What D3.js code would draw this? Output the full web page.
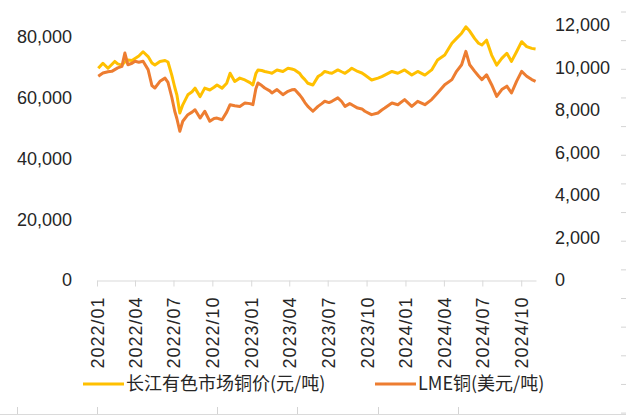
<!DOCTYPE html>
<html>
<head>
<meta charset="utf-8">
<script src="https://cdn.jsdelivr.net/npm/d3@7"></script>
<style>
  body { margin: 0; background: #fff; }
  svg text { font-family: "Liberation Sans", Arial, "Noto Sans CJK SC", sans-serif; fill: #262626; }
</style>
</head>
<body>
<svg id="chart" width="626" height="416"></svg>
<script>
// dates (approx. every 1-2 weeks)
const dates = [
  "2022-01-04","2022-01-15","2022-01-27","2022-02-05","2022-02-12","2022-02-19","2022-03-01","2022-03-08",
  "2022-03-15","2022-03-25","2022-04-01","2022-04-10","2022-04-20","2022-05-02","2022-05-11","2022-05-18",
  "2022-05-30","2022-06-11","2022-06-18","2022-06-27","2022-07-04","2022-07-09","2022-07-16","2022-07-23",
  "2022-08-04","2022-08-14","2022-08-21","2022-09-02","2022-09-13","2022-09-25","2022-10-05","2022-10-12",
  "2022-10-24","2022-11-04","2022-11-12","2022-11-23","2022-12-05","2022-12-17","2022-12-29","2023-01-05",
  "2023-01-12","2023-01-17","2023-01-26","2023-02-02","2023-02-14","2023-02-19","2023-03-03","2023-03-17",
  "2023-03-29","2023-04-07","2023-04-14","2023-04-26","2023-05-01","2023-05-08","2023-05-15","2023-05-27",
  "2023-06-08","2023-06-17","2023-06-24","2023-07-04","2023-07-11","2023-07-25","2023-08-03","2023-08-11",
  "2023-08-22","2023-08-27","2023-09-10","2023-09-20","2023-09-27","2023-10-09","2023-10-13","2023-10-28",
  "2023-11-06","2023-11-13","2023-11-30","2023-12-14","2023-12-30","2024-01-16","2024-01-30","2024-02-16",
  "2024-03-03","2024-03-17","2024-04-03","2024-04-20","2024-05-01","2024-05-13","2024-05-23","2024-06-01",
  "2024-06-13","2024-06-22","2024-06-30","2024-07-11","2024-07-23","2024-08-04","2024-08-16","2024-08-28",
  "2024-09-08","2024-09-20","2024-10-02","2024-10-14","2024-10-26","2024-11-04"
];
// 长江有色市场铜价 (元/吨), left axis
const cjCopper = [
  69750,71400,69750,71000,72000,71200,70800,71800,72500,72300,73000,73800,75200,73600,71500,70800,
  72000,72300,71800,67500,63500,61000,55000,57700,61000,62000,63200,60400,63200,62600,63500,64250,
  63200,64800,68100,65400,66500,65900,65000,64250,68000,69200,69000,68700,68300,68100,69200,68700,
  69750,69500,69200,68000,67000,66000,64800,64250,67000,67800,68700,68300,68100,69200,68600,68100,
  69200,69750,68700,68200,67500,66300,65900,66500,67000,67500,68700,68100,69200,67500,68700,67500,
  69200,72500,74100,78000,79600,81300,83400,82000,79500,78000,77400,79000,74100,70800,73000,74700,
  72000,75200,78500,76900,76300,76100
];
// LME铜 (美元/吨), right axis
const lmeCopper = [
  9590,9740,9800,9820,9900,9980,10050,10680,10130,10200,10290,10250,10290,9900,9150,9035,
  9350,9500,9300,8600,7940,7600,7000,7470,7780,7900,8010,7620,7940,7470,7600,7620,
  7540,7900,8250,8200,8170,8330,8300,8250,9000,9270,9150,9035,8900,8800,8960,8720,
  8880,8950,8960,8700,8570,8350,8170,7940,8170,8300,8410,8350,8410,8570,8400,8170,
  8300,8250,8090,8050,7940,7820,7780,7860,8000,8090,8330,8250,8490,8170,8410,8250,
  8490,8800,9190,9430,9820,10130,10760,10130,9820,9600,9430,9660,9190,8640,8960,9120,
  8800,9350,9820,9590,9430,9350
];
const leftTicks = [0, 20000, 40000, 60000, 80000];
const rightTicks = [0, 2000, 4000, 6000, 8000, 10000, 12000];
const seriesNames = ["长江有色市场铜价(元/吨)", "LME铜(美元/吨)"];
const seriesColors = ["#FFC000", "#ED7D31"];

const parse = d3.timeParse("%Y-%m-%d");
const days = dates.map(parse);

const svg = d3.select("#chart");

// faint spreadsheet cell lines around the chart object
const rowMarks = d3.range(12, 416, 28.65);
svg.selectAll("line.row").data(rowMarks).enter().append("line")
  .attr("x1", 621).attr("x2", 626).attr("y1", d => d).attr("y2", d => d)
  .style("stroke", "#d4d4d4").style("stroke-width", 1);
svg.append("line").attr("x1", 0).attr("x2", 626).attr("y1", 414.5).attr("y2", 414.5)
  .style("stroke", "#dadada");
[17, 97, 217, 297, 378, 458].forEach(cx => {
  svg.append("line").attr("x1", cx + 0.5).attr("x2", cx + 0.5).attr("y1", 407).attr("y2", 414)
    .style("stroke", "#d4d4d4");
});

const x = d3.scaleTime()
  .domain([new Date(2022, 0, 1), new Date(2024, 10, 5)])
  .range([97, 536]);
const yLeft = d3.scaleLinear().domain([0, 84000]).range([280, 25]);
const yRight = d3.scaleLinear().domain([0, 12000]).range([280, 25]);

// x axis
const xAxis = d3.axisBottom(x)
  .ticks(d3.timeMonth.every(3))
  .tickFormat(d3.timeFormat("%Y/%m"))
  .tickSize(6)
  .tickSizeOuter(0);
const gx = svg.append("g")
  .attr("transform", "translate(0,280.5)")
  .call(xAxis);
gx.select(".domain").style("stroke", "#d9d9d9");
gx.selectAll(".tick line").style("stroke", "#d9d9d9");
gx.selectAll(".tick text")
  .attr("transform", "rotate(-90)")
  .attr("x", -16)
  .attr("y", 0)
  .attr("dy", "0.36em")
  .style("text-anchor", "end")
  .style("font-size", "18px")
  .style("letter-spacing", "1px")
  .style("fill", "#262626");

// left axis
const gl = svg.append("g")
  .attr("transform", "translate(72,0)")
  .call(d3.axisLeft(yLeft).tickValues(leftTicks).tickFormat(d3.format(",")).tickSize(0).tickPadding(0));
gl.select(".domain").remove();
gl.selectAll("text").style("font-size", "18px");

// right axis
const gr = svg.append("g")
  .attr("transform", "translate(555,0)")
  .call(d3.axisRight(yRight).tickValues(rightTicks).tickFormat(d3.format(",")).tickSize(0).tickPadding(0));
gr.select(".domain").remove();
gr.selectAll("text").style("font-size", "18px");

// lines
const lineLeft = d3.line()
  .x((d, i) => x(days[i]))
  .y(d => yLeft(d));
const lineRight = d3.line()
  .x((d, i) => x(days[i]))
  .y(d => yRight(d));

svg.append("path")
  .datum(cjCopper)
  .attr("d", lineLeft)
  .style("fill", "none")
  .style("stroke", seriesColors[0])
  .style("stroke-width", 3)
  .style("stroke-linejoin", "round");

svg.append("path")
  .datum(lmeCopper)
  .attr("d", lineRight)
  .style("fill", "none")
  .style("stroke", seriesColors[1])
  .style("stroke-width", 3)
  .style("stroke-linejoin", "round");

// legend
const legendX = [83, 375];
const legend = svg.append("g");
seriesNames.forEach((name, i) => {
  legend.append("line")
    .attr("x1", legendX[i]).attr("x2", legendX[i] + 41)
    .attr("y1", 384).attr("y2", 384)
    .style("stroke", seriesColors[i])
    .style("stroke-width", 3);
  legend.append("text")
    .attr("x", legendX[i] + 43)
    .attr("y", 384)
    .attr("dy", "0.35em")
    .style("font-size", "18px")
    .style("font-family", "'Noto Sans CJK SC', 'Liberation Sans', sans-serif")
    .text(name);
});
</script>
</body>
</html>
